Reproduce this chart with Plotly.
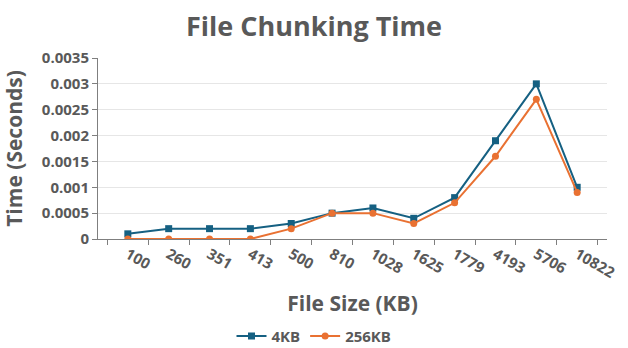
import plotly.graph_objects as go

file_sizes = ["100", "260", "351", "413", "500", "810", "1028", "1625", "1779", "4193", "5706", "10822"]
time_4kb = [0.0001, 0.0002, 0.0002, 0.0002, 0.0003, 0.0005, 0.0006, 0.0004, 0.0008, 0.0019, 0.0030, 0.0010]
time_256kb = [0.0, 0.0, 0.0, 0.0, 0.0002, 0.0005, 0.0005, 0.0003, 0.0007, 0.0016, 0.0027, 0.0009]

GREY = "#595959"
FONT = "Open Sans"

fig = go.Figure()
fig.add_trace(go.Scatter(
    x=file_sizes, y=time_4kb, name="4KB", mode="lines+markers",
    line=dict(color="#156082", width=2),
    marker=dict(symbol="square", size=7, color="#156082"),
))
fig.add_trace(go.Scatter(
    x=file_sizes, y=time_256kb, name="256KB", mode="lines+markers",
    line=dict(color="#E97132", width=2),
    marker=dict(symbol="circle", size=7, color="#E97132"),
))

fig.update_layout(
    width=628, height=348,
    margin=dict(l=98, r=21, t=58, b=109, autoexpand=False),
    paper_bgcolor="white", plot_bgcolor="white",
    font=dict(family=FONT, color=GREY),
    title=dict(text="<b>File Chunking Time</b>", x=0.5, xanchor="center",
               y=0.925, yanchor="middle", font=dict(size=27, color=GREY)),
    showlegend=True,
    legend=dict(orientation="h", xref="container", x=0.5, xanchor="center",
                yref="container", y=0.034, yanchor="middle",
                font=dict(size=15, color=GREY, family=FONT, weight="bold"), itemwidth=30,
                tracegroupgap=0),
)

fig.update_xaxes(
    type="category", automargin=False,
    showline=True, linecolor="#7F7F7F", linewidth=1,
    ticks="outside", tickson="boundaries", ticklen=5, tickcolor="#7F7F7F",
    tickangle=30,
    tickfont=dict(size=15, color=GREY, family=FONT, weight="bold"),
    showgrid=False,
    title=dict(text="<b>File Size (KB)</b>", font=dict(size=21, color=GREY)),
)
fig.update_yaxes(
    range=[0, 0.0035], dtick=0.0005, tickformat="~g", automargin=False,
    showline=True, linecolor="#7F7F7F", linewidth=1,
    ticks="outside", ticklen=5, tickcolor="#7F7F7F",
    showgrid=True, gridcolor="#E6E6E6", gridwidth=1,
    zeroline=False,
    tickfont=dict(size=15, color=GREY, family=FONT, weight="bold"),
    title=dict(text="<b>Time (Seconds)</b>", font=dict(size=21, color=GREY)),
)

fig.write_html("out.html")
